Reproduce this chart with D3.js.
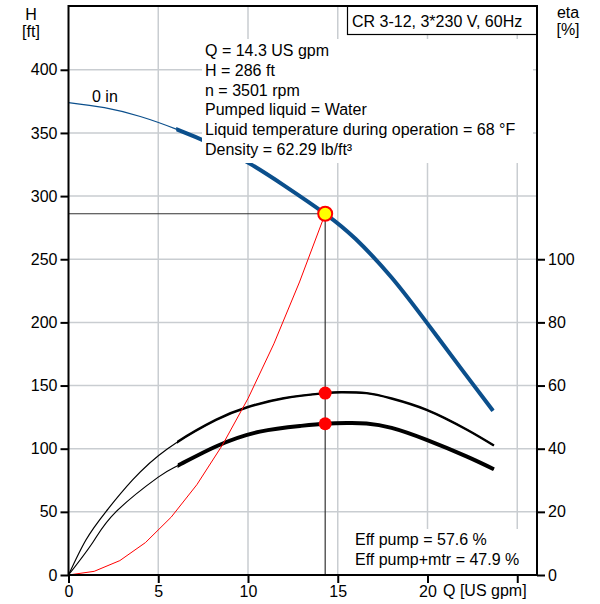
<!DOCTYPE html>
<html>
<head>
<meta charset="utf-8">
<script src="https://cdn.jsdelivr.net/npm/d3@7"></script>
<style>
  body { margin: 0; background: #fff; }
  svg text { font-family: "Liberation Sans", Arial, sans-serif; font-size: 16px; fill: #000; }
</style>
</head>
<body>
<div class="pump-chart"></div>
<script>

// values
var headQ = [0, 2, 4, 6, 8, 10, 12, 14.3, 16, 18, 20, 22, 23.65];
var headH = [374, 370, 363, 353, 341, 326.5, 308.5, 286, 266, 235.5, 199, 161, 130];

var etaPumpQ = [0, 0.97, 2.09, 3.57, 5.52, 8.21, 10, 12, 14.3, 15.2, 16.6, 18, 19.95, 22.2, 23.7];
var etaPump = [0, 11.1, 20.1, 30.1, 40, 49.1, 53.2, 56.0, 57.6, 57.9, 57.6, 55.9, 52.3, 46, 41];

var etaTotQ = [0, 1.35, 2.64, 5, 6.08, 8.21, 10.66, 12.9, 14.3, 15.5, 16.6, 18, 19.95, 22.2, 23.7];
var etaTot = [0, 10.3, 20, 31, 34.6, 40.7, 45.4, 47.2, 47.9, 48.15, 48.0, 46.6, 42.8, 37.5, 33.5];

var systemQ = [0, 1.43, 2.86, 4.29, 5.72, 7.15, 8.58, 10.01, 11.44, 12.87, 14.3];
var systemH = [0, 2.9, 11.4, 25.7, 45.8, 71.5, 103, 140, 183, 232, 286];

// start of the bold (allowed) range for head, eta pump, eta pump+mtr
var minFlow = [6.0, 6.05, 6.08];

var dutyQ = 14.3, dutyH = 286, dutyEtaPump = 57.6, dutyEtaTot = 47.9;

var qTicks = [0, 5, 10, 15, 20, 25];
var qTickLabels = ["0", "5", "10", "15", "20", ""];
var hTicks = [0, 50, 100, 150, 200, 250, 300, 350, 400];
var hGrid = [50, 100, 150, 200, 250, 300, 350, 400];
var etaTicks = [0, 20, 40, 60, 80, 100];

var infoLines = [
  "Q = 14.3 US gpm",
  "H = 286 ft",
  "n = 3501 rpm",
  "Pumped liquid = Water",
  "Liquid temperature during operation = 68 °F",
  "Density = 62.29 lb/ft³"
];
var effLines = ["Eff pump = 57.6 %", "Eff pump+mtr = 47.9 %"];

var pLeft = 68.5, pRight = 537, pTop = 6, pBottom = 575;

var x = d3.scaleLinear().domain([0, 26.1]).range([pLeft, pRight]);
var y = d3.scaleLinear().domain([0, 450.5]).range([pBottom, pTop]);
var yEta = d3.scaleLinear().domain([0, 180.2]).range([pBottom, pTop]);

var svg = d3.select(".pump-chart").append("svg")
  .attr("width", 600)
  .attr("height", 604);

var defs = svg.append("defs");

// grid
svg.append("g").selectAll("line")
    .data(qTicks.slice(1))
  .enter().append("line")
    .attr("x1", function(d) { return x(d); })
    .attr("x2", function(d) { return x(d); })
    .attr("y1", pTop).attr("y2", pBottom)
    .attr("stroke", "#c9cdd1").attr("stroke-width", 1.5);

svg.append("g").selectAll("line")
    .data(hGrid)
  .enter().append("line")
    .attr("y1", function(d) { return y(d); })
    .attr("y2", function(d) { return y(d); })
    .attr("x1", pLeft).attr("x2", pRight)
    .attr("stroke", "#c9cdd1").attr("stroke-width", 1.5);

function zip(qs, vs) {
  return qs.map(function(q, i) { return [q, vs[i]]; });
}

// thin line over the whole range, thick line clipped to Q >= q0
function drawCurve(id, qs, vs, scale, q0, color, thick) {
  var line = d3.line()
    .x(function(p) { return x(p[0]); })
    .y(function(p) { return scale(p[1]); })
    .curve(d3.curveNatural);
  var d = line(zip(qs, vs));

  defs.append("clipPath").attr("id", id)
    .append("rect")
      .attr("x", x(q0)).attr("y", 0)
      .attr("width", 600).attr("height", 604);

  svg.append("path")
    .attr("d", d)
    .attr("fill", "none")
    .attr("stroke", color)
    .attr("stroke-width", 1.2);
  svg.append("path")
    .attr("d", d)
    .attr("clip-path", "url(#" + id + ")")
    .attr("fill", "none")
    .attr("stroke", color)
    .attr("stroke-width", thick);
}

drawCurve("clip-head", headQ, headH, y, minFlow[0], "#0b4f8c", 4);
drawCurve("clip-pump", etaPumpQ, etaPump, yEta, minFlow[1], "#000", 2.5);
drawCurve("clip-tot", etaTotQ, etaTot, yEta, minFlow[2], "#000", 4);

// system curve, straight segments
svg.append("path")
  .attr("d", d3.line()
    .x(function(p) { return x(p[0]); })
    .y(function(p) { return y(p[1]); })(zip(systemQ, systemH)))
  .attr("fill", "none")
  .attr("stroke", "#ff0000")
  .attr("stroke-width", 1);

// duty point guide lines
svg.append("line")
  .attr("x1", x(0)).attr("x2", x(dutyQ))
  .attr("y1", y(dutyH)).attr("y2", y(dutyH))
  .attr("stroke", "#333").attr("stroke-width", 1.2);
svg.append("line")
  .attr("x1", x(dutyQ)).attr("x2", x(dutyQ))
  .attr("y1", y(dutyH)).attr("y2", y(0))
  .attr("stroke", "#333").attr("stroke-width", 1.2);

svg.selectAll(".eta-dot")
    .data([dutyEtaPump, dutyEtaTot])
  .enter().append("circle")
    .attr("class", "eta-dot")
    .attr("cx", x(dutyQ))
    .attr("cy", function(d) { return yEta(d); })
    .attr("r", 6.5)
    .attr("fill", "#ff0000");

svg.append("circle")
  .attr("cx", x(dutyQ))
  .attr("cy", y(dutyH))
  .attr("r", 7)
  .attr("fill", "#ffff00")
  .attr("stroke", "#ff0000")
  .attr("stroke-width", 2);

// text boxes
svg.append("rect")
  .attr("x", 202).attr("y", 39).attr("width", 331).attr("height", 124)
  .attr("fill", "#fff");
svg.append("g").selectAll("text")
    .data(infoLines)
  .enter().append("text")
    .attr("x", 205)
    .attr("y", function(d, i) { return 56 + i * 19.8; })
    .text(function(d) { return d; });

svg.append("rect")
  .attr("x", 352).attr("y", 529).attr("width", 173).attr("height", 45)
  .attr("fill", "#fff");
svg.append("g").selectAll("text")
    .data(effLines)
  .enter().append("text")
    .attr("x", 355)
    .attr("y", function(d, i) { return 545 + i * 20; })
    .text(function(d) { return d; });

svg.append("rect")
  .attr("x", 347.5).attr("y", pTop).attr("width", pRight - 347.5).attr("height", 28.5)
  .attr("fill", "#fff").attr("stroke", "#000").attr("stroke-width", 1.2);
svg.append("text")
  .attr("x", 352).attr("y", 27)
  .text("CR 3-12, 3*230 V, 60Hz");

svg.append("text").attr("x", 92).attr("y", 102).text("0 in");

// frame
svg.append("rect")
  .attr("x", pLeft).attr("y", pTop)
  .attr("width", pRight - pLeft).attr("height", pBottom - pTop)
  .attr("fill", "none").attr("stroke", "#000").attr("stroke-width", 2);

// axes
function styleAxis(g) {
  g.select(".domain").remove();
  g.selectAll(".tick line").attr("stroke", "#000").attr("stroke-width", 2);
  g.selectAll(".tick text")
    .style("font-family", "'Liberation Sans', Arial, sans-serif")
    .style("font-size", "16px")
    .attr("fill", "#000");
}

svg.append("g")
  .attr("transform", "translate(" + pLeft + ",0)")
  .call(d3.axisLeft(y).tickValues(hTicks).tickSize(8).tickPadding(3))
  .call(styleAxis);

svg.append("g")
  .attr("transform", "translate(" + pRight + ",0)")
  .call(d3.axisRight(yEta).tickValues(etaTicks).tickSize(8).tickPadding(3))
  .call(styleAxis);

svg.append("g")
  .attr("transform", "translate(0," + pBottom + ")")
  .call(d3.axisBottom(x).tickValues(qTicks).tickSize(8).tickPadding(3)
    .tickFormat(function(d, i) { return qTickLabels[i]; }))
  .call(styleAxis);

svg.append("text").attr("x", 443).attr("y", 596).text("Q [US gpm]");

svg.append("text").attr("x", 31).attr("y", 20).attr("text-anchor", "middle").text("H");
svg.append("text").attr("x", 31).attr("y", 37).attr("text-anchor", "middle").text("[ft]");
svg.append("text").attr("x", 568).attr("y", 18).attr("text-anchor", "middle").text("eta");
svg.append("text").attr("x", 568).attr("y", 35).attr("text-anchor", "middle").text("[%]");

</script>
</body>
</html>
